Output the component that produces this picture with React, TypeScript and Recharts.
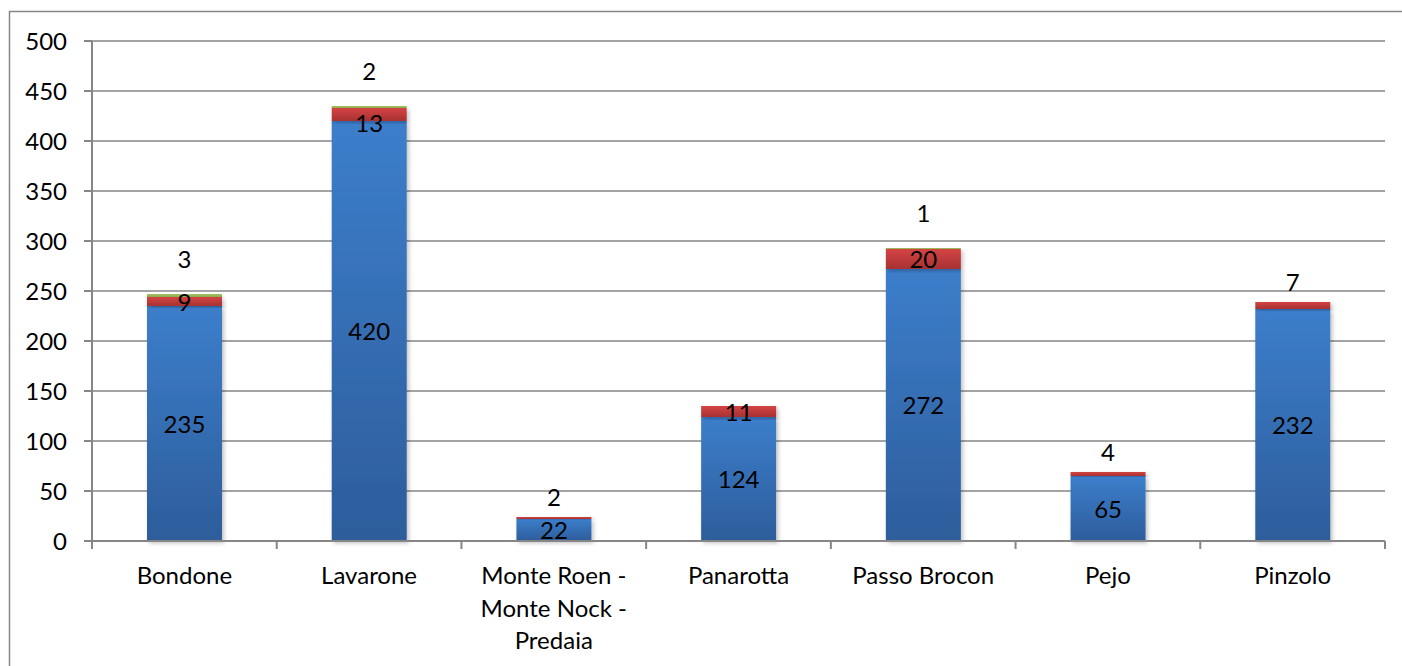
import React from 'react';
import { BarChart, Bar, XAxis, YAxis, CartesianGrid, LabelList } from 'recharts';

const categories = ['Bondone', 'Lavarone', 'Monte Roen - Monte Nock - Predaia', 'Panarotta', 'Passo Brocon', 'Pejo', 'Pinzolo'];
const blueValues = [235, 420, 22, 124, 272, 65, 232];
const redValues = [9, 13, 2, 11, 20, 4, 7];
const greenValues = [3, 2, 0, 0, 1, 0, 0];
const yTicks = [0, 50, 100, 150, 200, 250, 300, 350, 400, 450, 500];

const data = categories.map((name, i) => ({
  name,
  blue: blueValues[i],
  red: redValues[i],
  green: greenValues[i],
}));

const FONT = 'Lato, "Open Sans", sans-serif';
const FS = 24;
const PLOT_LEFT = 92;
const PLOT_RIGHT = 1385;
const BAND = (PLOT_RIGHT - PLOT_LEFT) / categories.length;

function wrap(text: string, maxChars: number): string[] {
  const words = text.split(' ');
  const lines: string[] = [];
  let cur = '';
  for (const w of words) {
    const next = cur ? cur + ' ' + w : w;
    if (next.length > maxChars && cur) {
      lines.push(cur);
      cur = w;
    } else {
      cur = next;
    }
  }
  if (cur) lines.push(cur);
  return lines;
}

const CategoryTick = (props: any) => {
  const { x, y, payload, index } = props;
  const lines = wrap(String(payload.value), 13);
  const left = x - BAND / 2;
  return (
    <g>
      <line x1={left} y1={y - 8} x2={left} y2={y} stroke="#868686" strokeWidth={2} />
      {index === categories.length - 1 && (
        <line x1={x + BAND / 2} y1={y - 8} x2={x + BAND / 2} y2={y} stroke="#868686" strokeWidth={2} />
      )}
      <text x={x} y={y + 35} textAnchor="middle" fontFamily={FONT} fontSize={FS} fill="#000">
        {lines.map((l, i) => (
          <tspan key={i} x={x} dy={i === 0 ? 0 : 32.5}>{l}</tspan>
        ))}
      </text>
    </g>
  );
};

const centerLabel = (props: any) => {
  const { x, y, width, height, value } = props;
  if (!value) return null;
  return (
    <text x={x + width / 2} y={y + height / 2} dy={9} textAnchor="middle" fontFamily={FONT} fontSize={FS} fill="#000">
      {value}
    </text>
  );
};

const redLabel = (props: any) => {
  const { x, y, width, height, value } = props;
  if (!value) return null;
  const cy = value >= 9 ? y + height / 2 + (value >= 13 && value < 20 ? 8 : 0) : y - 20;
  return (
    <text x={x + width / 2} y={cy} dy={9} textAnchor="middle" fontFamily={FONT} fontSize={FS} fill="#000">
      {value}
    </text>
  );
};

const greenLabel = (props: any) => {
  const { x, y, width, value } = props;
  if (!value) return null;
  return (
    <text x={x + width / 2} y={y - 35} dy={9} textAnchor="middle" fontFamily={FONT} fontSize={FS} fill="#000">
      {value}
    </text>
  );
};

export default function App() {
  return (
    <div style={{ position: 'absolute', left: 0, top: 0, width: 1402, height: 666, background: '#fff' }}>
      <svg width={1402} height={666} style={{ position: 'absolute', left: 0, top: 0 }}>
        <rect x={9.5} y={11.5} width={1420} height={700} fill="#fff" stroke="#868686" strokeWidth={1.5} />
      </svg>
      <div style={{ position: 'absolute', left: 0, top: 0 }}>
        <BarChart
          width={1402}
          height={666}
          data={data}
          margin={{ top: 41, right: 17, bottom: 0, left: 0 }}
          barSize={75}
        >
          <defs>
            <linearGradient id="gBlue" x1="0" y1="0" x2="0" y2="1">
              <stop offset="0%" stopColor="#3c7ecb" />
              <stop offset="100%" stopColor="#2d5d9b" />
            </linearGradient>
            <linearGradient id="gRed" x1="0" y1="0" x2="0" y2="1">
              <stop offset="0%" stopColor="#d44444" />
              <stop offset="100%" stopColor="#a83131" />
            </linearGradient>
            <linearGradient id="gGreen" x1="0" y1="0" x2="0" y2="1">
              <stop offset="0%" stopColor="#a3c463" />
              <stop offset="100%" stopColor="#8aa84c" />
            </linearGradient>
            <filter id="shadow" x="-20%" y="-20%" width="140%" height="140%">
              <feDropShadow dx={2} dy={2} stdDeviation={2} floodColor="#000" floodOpacity={0.25} />
            </filter>
          </defs>
          <CartesianGrid horizontal vertical={false} stroke="#868686" strokeWidth={1.5} />
          <XAxis
            dataKey="name"
            interval={0}
            height={125}
            tickLine={false}
            axisLine={{ stroke: '#868686', strokeWidth: 2 }}
            tick={<CategoryTick />}
          />
          <YAxis
            domain={[0, 500]}
            ticks={yTicks}
            width={92}
            tickSize={8}
            tickMargin={17}
            axisLine={{ stroke: '#868686', strokeWidth: 2 }}
            tickLine={{ stroke: '#868686', strokeWidth: 2 }}
            tick={{ fontFamily: FONT, fontSize: FS, fill: '#000' }}
            interval={0}
          />
          <Bar dataKey="blue" stackId="s" fill="url(#gBlue)" isAnimationActive={false} filter="url(#shadow)">
            <LabelList dataKey="blue" content={centerLabel} />
          </Bar>
          <Bar dataKey="red" stackId="s" fill="url(#gRed)" isAnimationActive={false} filter="url(#shadow)">
            <LabelList dataKey="red" content={redLabel} />
          </Bar>
          <Bar dataKey="green" stackId="s" fill="url(#gGreen)" isAnimationActive={false}>
            <LabelList dataKey="green" content={greenLabel} />
          </Bar>
        </BarChart>
      </div>
    </div>
  );
}
